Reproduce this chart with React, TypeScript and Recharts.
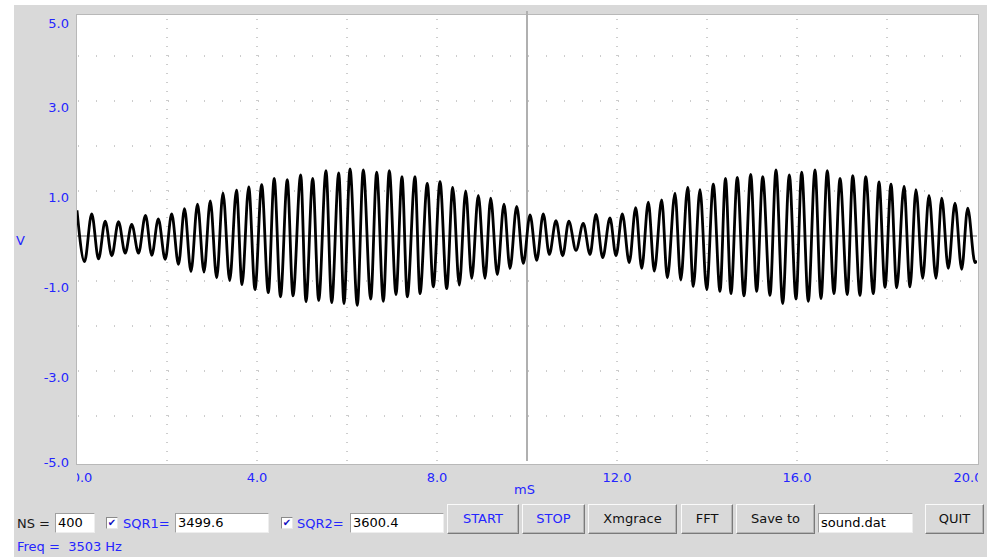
import React from "react";
import { LineChart, Line, XAxis, YAxis, ReferenceLine } from "recharts";

// Waveform: successive peaks / troughs (time in ms, volts)
const timeMs = [
  0, 0.167, 0.327, 0.478, 0.627, 0.773, 0.922, 1.071, 1.216, 1.367,
  1.522, 1.662, 1.807, 1.96, 2.104, 2.256, 2.389, 2.533, 2.678, 2.822,
  2.962, 3.104, 3.244, 3.393, 3.544, 3.667, 3.816, 3.956, 4.104, 4.251,
  4.382, 4.522, 4.673, 4.8, 4.971, 5.089, 5.238, 5.371, 5.533, 5.66,
  5.816, 5.933, 6.067, 6.229, 6.362, 6.527, 6.66, 6.807, 6.94, 7.089,
  7.222, 7.34, 7.511, 7.622, 7.784, 7.918, 8.067, 8.216, 8.349, 8.496,
  8.638, 8.771, 8.918, 9.067, 9.193, 9.34, 9.489, 9.622, 9.771, 9.918,
  10.067, 10.216, 10.362, 10.496, 10.644, 10.793, 10.929, 11.089, 11.251, 11.4,
  11.533, 11.682, 11.844, 11.978, 12.118, 12.273, 12.416, 12.549, 12.696, 12.829,
  12.993, 13.118, 13.289, 13.416, 13.571, 13.696, 13.844, 13.993, 14.14, 14.289,
  14.411, 14.533, 14.673, 14.822, 14.971, 15.104, 15.238, 15.4, 15.533, 15.682,
  15.829, 15.978, 16.104, 16.251, 16.4, 16.533, 16.673, 16.822, 16.956, 17.118,
  17.238, 17.4, 17.527, 17.696, 17.822, 17.956, 18.089, 18.216, 18.378, 18.511,
  18.644, 18.793, 18.933, 19.089, 19.216, 19.362, 19.511, 19.66, 19.793, 19.956,
  20,
];

const volts = [
  0.57, -0.57, 0.49, -0.51, 0.33, -0.44, 0.32, -0.38, 0.26, -0.38,
  0.46, -0.43, 0.38, -0.52, 0.49, -0.63, 0.61, -0.79, 0.71, -0.8,
  0.78, -0.93, 0.96, -0.99, 1.02, -1.08, 1.09, -1.19, 1.14, -1.26,
  1.28, -1.35, 1.25, -1.33, 1.36, -1.46, 1.28, -1.43, 1.45, -1.48,
  1.4, -1.5, 1.49, -1.54, 1.47, -1.4, 1.42, -1.45, 1.45, -1.3,
  1.32, -1.35, 1.32, -1.28, 1.17, -1.13, 1.21, -1.17, 1.08, -1.09,
  1.0, -0.94, 0.9, -0.94, 0.84, -0.86, 0.71, -0.72, 0.66, -0.61,
  0.47, -0.54, 0.49, -0.41, 0.34, -0.44, 0.33, -0.32, 0.28, -0.41,
  0.48, -0.48, 0.4, -0.44, 0.49, -0.59, 0.63, -0.72, 0.75, -0.78,
  0.8, -0.93, 0.95, -0.98, 1.08, -1.12, 1.03, -1.19, 1.15, -1.23,
  1.28, -1.28, 1.3, -1.33, 1.37, -1.23, 1.32, -1.32, 1.47, -1.5,
  1.36, -1.4, 1.42, -1.45, 1.47, -1.39, 1.45, -1.28, 1.28, -1.3,
  1.34, -1.32, 1.32, -1.28, 1.2, -1.14, 1.15, -1.15, 1.1, -1.13,
  1.03, -0.94, 0.9, -0.94, 0.84, -0.72, 0.73, -0.74, 0.62, -0.59,
  -0.55,
];

const xTicks = [0, 4, 8, 12, 16, 20];
const yTicks = [-5, -3, -1, 1, 3, 5];
const gridMs = [2, 4, 6, 8, 12, 14, 16, 18];
const gridV = [-4, -3, -2, -1, 1, 2, 3, 4];
const xDomain = [0, 20];
const yDomain = [-5, 5];

const data = timeMs.map((t, i) => ({ t, v: volts[i] }));

const FONT = "'DejaVu Sans', sans-serif";
const BLUE = "#2525ff";
const PLOT_L = 77;
const PLOT_R = 978;

const XTick = (props: any) => {
  const { x, payload, index } = props;
  const id = `xclip-${index}`;
  const val = Number(payload.value);
  // the first and last labels sit a little inward, then get cut by the plot edge
  const shift = val === xDomain[0] ? 5 : val === xDomain[1] ? -9 : 0;
  return (
    <g>
      <defs>
        <clipPath id={id}>
          <rect x={PLOT_L} y={0} width={PLOT_R - PLOT_L} height={557} />
        </clipPath>
      </defs>
      <text
        x={x + shift}
        y={477}
        textAnchor="middle"
        dominantBaseline="central"
        clipPath={`url(#${id})`}
        fill={BLUE}
        fontFamily={FONT}
        fontSize={13}
      >
        {val.toFixed(1)}
      </text>
    </g>
  );
};

const YTick = (props: any) => {
  const { x, y, payload } = props;
  const ty = Math.min(462, Math.max(23, y + 6));
  return (
    <text
      x={x}
      y={ty}
      textAnchor="end"
      dominantBaseline="central"
      fill={BLUE}
      fontFamily={FONT}
      fontSize={13}
    >
      {Number(payload.value).toFixed(1)}
    </text>
  );
};

const txt: React.CSSProperties = {
  position: "absolute",
  fontFamily: FONT,
  fontSize: 13,
  lineHeight: "16px",
  whiteSpace: "nowrap",
};

const Entry = ({ left, width, value }: { left: number; width: number; value: string }) => (
  <div
    style={{
      position: "absolute",
      left,
      top: 513,
      width,
      height: 20,
      boxSizing: "border-box",
      background: "#ffffff",
      borderStyle: "solid",
      borderWidth: 1,
      borderColor: "#a0a0a0 #eeeeee #eeeeee #a0a0a0",
      fontFamily: FONT,
      fontSize: 13,
      lineHeight: "18px",
      paddingLeft: 2,
      color: "#000",
      whiteSpace: "nowrap",
      overflow: "hidden",
    }}
  >
    {value}
  </div>
);

const Button = ({ left, width, label, color }: { left: number; width: number; label: string; color: string }) => (
  <div
    style={{
      position: "absolute",
      left,
      top: 504,
      width,
      height: 30,
      boxSizing: "border-box",
      background: "#d9d9d9",
      borderStyle: "solid",
      borderWidth: 1,
      borderColor: "#fafafa #7a7a7a #7a7a7a #fafafa",
      boxShadow: "inset -1px -1px 0 #b5b5b5",
      fontFamily: FONT,
      fontSize: 13,
      lineHeight: "28px",
      textAlign: "center",
      color,
      whiteSpace: "nowrap",
    }}
  >
    {label}
  </div>
);

const Check = ({ left }: { left: number }) => (
  <div
    style={{
      position: "absolute",
      left,
      top: 517,
      width: 12,
      height: 12,
      boxSizing: "border-box",
      background: "#fff",
      borderStyle: "solid",
      borderWidth: 1,
      borderColor: "#8a8a8a #e8e8e8 #e8e8e8 #8a8a8a",
      fontFamily: FONT,
      fontSize: 10,
      lineHeight: "10px",
      textAlign: "center",
      color: "#1010c0",
    }}
  >
    ✔
  </div>
);

export default function App() {
  return (
    <div
      style={{
        position: "absolute",
        left: 0,
        top: 0,
        width: 987,
        height: 557,
        background: "#ffffff",
        overflow: "hidden",
      }}
    >
      <div style={{ position: "absolute", left: 14, top: 5, width: 973, height: 552, background: "#d9d9d9" }} />
      <div
        style={{
          position: "absolute",
          left: 76,
          top: 14,
          width: 903,
          height: 451,
          boxSizing: "border-box",
          background: "#ffffff",
          border: "1px solid #b8b8b8",
        }}
      />
      <div style={{ position: "absolute", left: 0, top: 0 }}>
        <LineChart
          width={987}
          height={557}
          data={data}
          margin={{ top: 11, right: 10, bottom: 66, left: 0 }}
        >
          <XAxis
            dataKey="t"
            type="number"
            domain={xDomain}
            ticks={xTicks}
            axisLine={false}
            tickLine={false}
            height={30}
            tick={<XTick />}
            interval={0}
            allowDataOverflow
          />
          <YAxis
            type="number"
            domain={yDomain}
            ticks={yTicks}
            axisLine={false}
            tickLine={false}
            tickSize={0}
            tickMargin={8}
            width={77}
            tick={<YTick />}
            interval={0}
            allowDataOverflow
          />
          {gridV.map((v) => (
            <ReferenceLine
              key={`gv${v}`}
              y={v}
              stroke="#9a9a9a"
              strokeWidth={1}
              strokeDasharray="1 17"
              strokeDashoffset={-1}
            />
          ))}
          {gridMs.map((m) => (
            <ReferenceLine key={`gm${m}`} x={m} stroke="#9a9a9a" strokeWidth={1} strokeDasharray="1 8" />
          ))}
          <ReferenceLine y={0} stroke="#b0b0b0" strokeWidth={2} />
          <ReferenceLine x={10} stroke="#b0b0b0" strokeWidth={2} />
          <Line
            dataKey="v"
            type="monotone"
            stroke="#000000"
            strokeWidth={2.8}
            dot={false}
            isAnimationActive={false}
          />
        </LineChart>
      </div>

      <div style={{ ...txt, left: 16, top: 233, color: BLUE }}>V</div>
      <div style={{ ...txt, left: 514, top: 482, color: BLUE }}>mS</div>

      <div style={{ ...txt, left: 17, top: 516, color: "#1a1a1a" }}>NS =</div>
      <Entry left={55} width={40} value="400" />
      <Check left={106} />
      <div style={{ ...txt, left: 123, top: 516, color: BLUE }}>SQR1=</div>
      <Entry left={175} width={94} value="3499.6" />
      <Check left={281} />
      <div style={{ ...txt, left: 297, top: 516, color: BLUE }}>SQR2=</div>
      <Entry left={350} width={94} value="3600.4" />
      <Button left={447} width={72} label="START" color={BLUE} />
      <Button left={522} width={63} label="STOP" color={BLUE} />
      <Button left={588} width={89} label="Xmgrace" color="#111" />
      <Button left={681} width={52} label="FFT" color="#111" />
      <Button left={736} width={79} label="Save to" color="#111" />
      <Entry left={818} width={95} value="sound.dat" />
      <Button left={925} width={59} label="QUIT" color="#111" />
      <div style={{ ...txt, left: 17, top: 539, color: BLUE }}>Freq =&nbsp; 3503 Hz</div>
    </div>
  );
}
